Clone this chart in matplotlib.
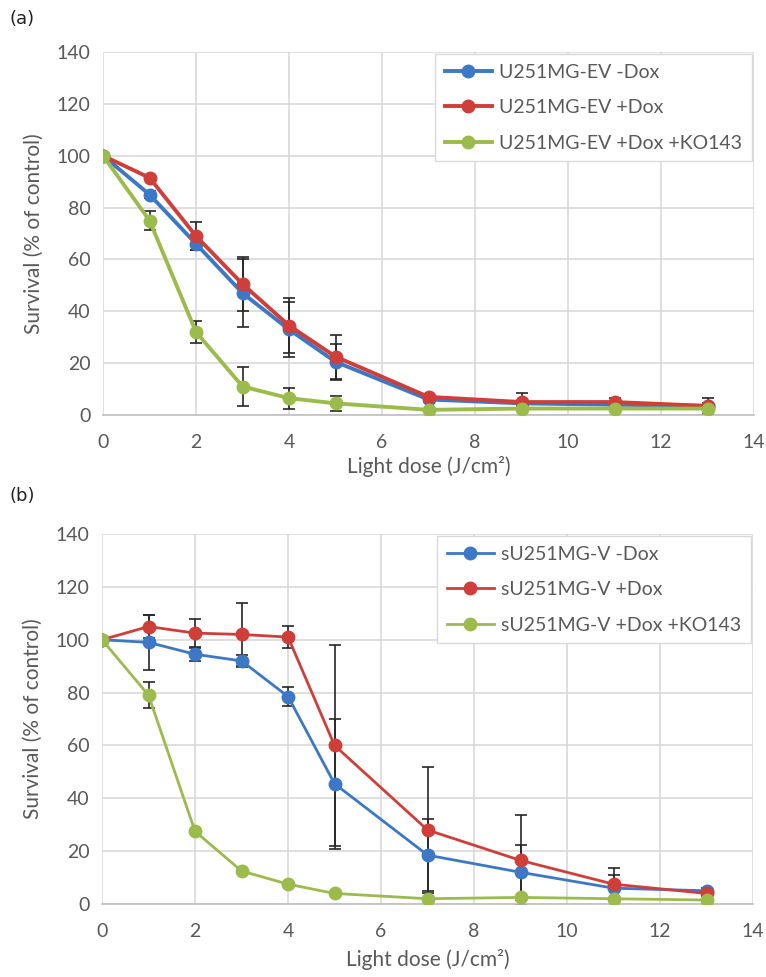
import numpy as np
import matplotlib
matplotlib.use('agg')
import matplotlib.pyplot as plt
import matplotlib.ticker as tkr

plt.rcParams['font.family'] = ['Lato', 'DejaVu Sans']

# light dose (J/cm2)
dose = [0, 1, 2, 3, 4, 5, 7, 9, 11, 13]

# panel (a)
a_labels = ['U251MG-EV -Dox', 'U251MG-EV +Dox', 'U251MG-EV +Dox +KO143']
a_minus = [100, 85, 66, 47, 33, 20.5, 6, 4.5, 4, 3.5]
a_minus_err = [0, 1.5, 2.5, 13, 10.5, 7, 1, 1, 1, 1]
a_plus = [100, 91.5, 69, 50.5, 34.5, 22.5, 7, 5, 5, 3.5]
a_plus_err = [0, 1, 5.5, 10.5, 10.5, 8.5, 1, 3.5, 1.5, 3]
a_ko = [100, 75, 32, 11, 6.5, 4.5, 2, 2.5, 2.5, 2.5]
a_ko_err = [0, 3.7, 4.3, 7.5, 4, 3, 0.5, 0.5, 0.5, 0.5]

# panel (b)
b_labels = ['sU251MG-V -Dox', 'sU251MG-V +Dox', 'sU251MG-V +Dox +KO143']
b_minus = [100, 99, 94.5, 92, 78.5, 45.5, 18.5, 12, 6, 5]
b_minus_err = [0, 10.5, 2.7, 2.3, 3.7, 24.5, 13.5, 10.5, 5, 1]
b_plus = [100, 105, 102.5, 102, 101, 60, 28, 16.5, 7.5, 4]
b_plus_err = [0, 4.5, 5.5, 12, 4.3, 38, 24, 17, 6, 1]
b_ko = [100, 79, 27.5, 12.5, 7.5, 4, 2, 2.5, 2, 1.5]
b_ko_err = [0, 5, 0.5, 0.5, 0.5, 0.5, 0.3, 0.3, 0.3, 0.3]

colours = ['#3c78c6', '#d03e3a', '#9bbb4c']
txt = '#595959'


def draw_panel(ax, series, errs, labels, lw, ms, xpad):
    for y, e, c, lab in zip(series, errs, colours, labels):
        ax.errorbar(dose, y, yerr=e, fmt='none', ecolor='#262626', elinewidth=1.2,
                    capsize=4, capthick=1.2, zorder=2)
        ax.plot(dose, y, '-o', color=c, lw=lw, ms=ms, label=lab, zorder=3)
    ax.set_xlim(0, 14)
    ax.set_ylim(0, 140)
    ax.xaxis.set_major_locator(tkr.MultipleLocator(2))
    ax.yaxis.set_major_locator(tkr.MultipleLocator(20))
    ax.grid(True, color='#d9d9d9', lw=1.2)
    ax.set_axisbelow(True)
    for s in ['top', 'right', 'left']:
        ax.spines[s].set_visible(False)
    ax.spines['bottom'].set_color('#bfbfbf')
    ax.spines['bottom'].set_linewidth(1.2)
    ax.tick_params(axis='x', length=0, labelsize=14, colors=txt, pad=14)
    ax.tick_params(axis='y', length=0, labelsize=14, colors=txt, pad=9)
    ax.set_ylabel('Survival (% of control)', fontsize=15, color=txt, labelpad=9)
    ax.set_xlabel('Light dose (J/cm²)', fontsize=15, color=txt, labelpad=xpad)
    leg = ax.legend(loc='upper right', fontsize=14, frameon=True, fancybox=False,
                    edgecolor='#d9d9d9', framealpha=1, borderpad=0.5,
                    handlelength=2.4, handletextpad=0.4, labelspacing=0.95,
                    borderaxespad=0.1)
    for t in leg.get_texts():
        t.set_color(txt)


fig = plt.figure(figsize=(7.66, 9.77), dpi=100)
ax0 = fig.add_axes([0.1345, 0.5752, 0.85, 0.3716])
ax1 = fig.add_axes([0.1332, 0.0747, 0.85, 0.3787])

draw_panel(ax0, [a_minus, a_plus, a_ko], [a_minus_err, a_plus_err, a_ko_err], a_labels, 2.8, 9, 3)
draw_panel(ax1, [b_minus, b_plus, b_ko], [b_minus_err, b_plus_err, b_ko_err], b_labels, 2.0, 9, 6)

fig.text(0.012, 0.975, '(a)', fontsize=13, color='#222222', family=['DejaVu Sans'])
fig.text(0.012, 0.487, '(b)', fontsize=13, color='#222222', family=['DejaVu Sans'])

fig.savefig('out.png', dpi=100)
